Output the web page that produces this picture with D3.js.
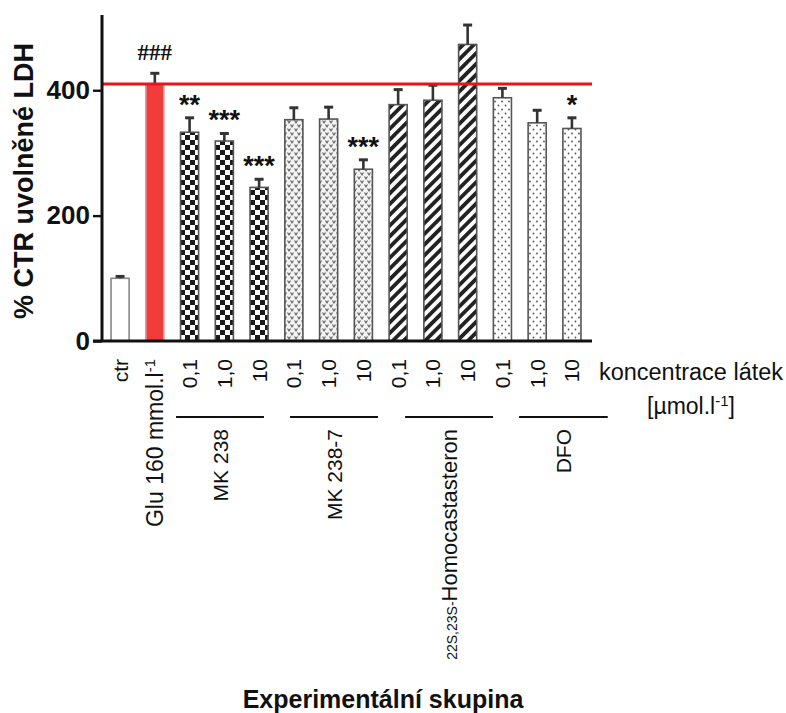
<!DOCTYPE html>
<html>
<head>
<meta charset="utf-8">
<script src="https://cdn.jsdelivr.net/npm/d3@7"></script>
<style>
  body { margin: 0; background: #fff; }
  svg text { font-family: "Liberation Sans", Arial, sans-serif; fill: #111; }
</style>
</head>
<body>
<svg id="chart" width="786" height="713"></svg>
<script>
// ---- data ----
var barIds    = ["ctr", "glu", "mk1", "mk2", "mk3", "mk7a", "mk7b", "mk7c", "hc1", "hc2", "hc3", "dfo1", "dfo2", "dfo3"];
var barLabels = ["ctr", "Glu 160 mmol.l", "0,1", "1,0", "10", "0,1", "1,0", "10", "0,1", "1,0", "10", "0,1", "1,0", "10"];
var values    = [100, 410, 333, 319, 245, 353, 354, 274, 377, 384, 473, 388, 348, 339];
var errors    = [3, 17, 23, 12, 13, 19, 19, 15, 24, 24, 31, 15, 20, 17];
var fillKinds = ["plain", "red", "check", "check", "check", "vee", "vee", "vee", "stripe", "stripe", "stripe", "dots", "dots", "dots"];
var signif    = ["", "###", "**", "***", "***", "", "", "***", "", "", "", "", "", "*"];
var yTicks    = [0, 200, 400];
// group underline spans, in bar-index units
var groupNames = ["MK 238", "MK 238-7", "22S,23S-Homocastasteron", "DFO"];
var groupFrom  = [1.61, 4.89, 8.20, 11.48];
var groupTo    = [4.14, 7.42, 10.73, 14.03];
var refValue   = values[1];

var svg = d3.select("#chart");
var defs = svg.append("defs");

// patterns
var p = defs.append("pattern").attr("id", "check").attr("patternUnits", "userSpaceOnUse")
    .attr("width", 10).attr("height", 10);
p.append("rect").attr("width", 10).attr("height", 10).attr("fill", "#fff");
p.append("rect").attr("width", 5).attr("height", 5).attr("fill", "#1a1a1a");
p.append("rect").attr("x", 5).attr("y", 5).attr("width", 5).attr("height", 5).attr("fill", "#1a1a1a");

p = defs.append("pattern").attr("id", "vee").attr("patternUnits", "userSpaceOnUse")
    .attr("width", 7).attr("height", 8);
p.append("rect").attr("width", 7).attr("height", 8).attr("fill", "#f2f2f2");
p.append("path").attr("d", "M0.5,0.5 L2,2.8 L3.5,0.5 M3.5,4.5 L5,6.8 L6.5,4.5")
    .attr("stroke", "#666").attr("stroke-width", 1.2).attr("fill", "none");

p = defs.append("pattern").attr("id", "stripe").attr("patternUnits", "userSpaceOnUse")
    .attr("width", 7.6).attr("height", 10).attr("patternTransform", "rotate(45)");
p.append("rect").attr("width", 7.6).attr("height", 10).attr("fill", "#fff");
p.append("rect").attr("width", 3.8).attr("height", 10).attr("fill", "#222");

p = defs.append("pattern").attr("id", "dots").attr("patternUnits", "userSpaceOnUse")
    .attr("width", 7).attr("height", 8);
p.append("rect").attr("width", 7).attr("height", 8).attr("fill", "#fff");
p.append("circle").attr("cx", 1.5).attr("cy", 1.5).attr("r", 0.9).attr("fill", "#555");
p.append("circle").attr("cx", 5).attr("cy", 5.5).attr("r", 0.9).attr("fill", "#555");

var fillFor = function (k) {
    if (k == "plain") return "#fff";
    if (k == "red") return "#f23c3c";
    return "url(#" + k + ")";
};

// scales
var x = d3.scaleBand().domain(barIds).range([102, 590]).paddingInner(0.48).paddingOuter(0.26);
var y = d3.scaleLinear().domain([0, 520]).range([341, 15]);
var bw = x.bandwidth();
var xIdx = d3.scaleLinear().domain([0, barIds.length - 1])
    .range([x(barIds[0]) + bw / 2, x(barIds[barIds.length - 1]) + bw / 2]);

var rows = barIds.map(function (id, i) {
    return { id: id, label: barLabels[i], v: values[i], e: errors[i], kind: fillKinds[i], sig: signif[i] };
});

// bars
svg.append("g").selectAll("rect").data(rows).enter().append("rect")
    .attr("x", function (d) { return x(d.id); })
    .attr("y", function (d) { return y(d.v); })
    .attr("width", bw)
    .attr("height", function (d) { return y(0) - y(d.v); })
    .attr("fill", function (d) { return fillFor(d.kind); })
    .attr("stroke", function (d) { return d.kind == "red" ? "#d9a0a0" : (d.kind == "plain" ? "#888" : "#555"); })
    .attr("stroke-width", 1.6);

// error bars
var eb = svg.append("g").attr("stroke", "#333");
eb.selectAll("line.v").data(rows).enter().append("line")
    .attr("x1", function (d) { return x(d.id) + bw / 2; })
    .attr("x2", function (d) { return x(d.id) + bw / 2; })
    .attr("y1", function (d) { return y(d.v); })
    .attr("y2", function (d) { return y(d.v + d.e); })
    .attr("stroke-width", 2.6);
eb.selectAll("line.c").data(rows).enter().append("line")
    .attr("x1", function (d) { return x(d.id) + bw / 2 - 4.5; })
    .attr("x2", function (d) { return x(d.id) + bw / 2 + 4.5; })
    .attr("y1", function (d) { return y(d.v + d.e); })
    .attr("y2", function (d) { return y(d.v + d.e); })
    .attr("stroke-width", 3);

// reference line (Glu level)
svg.append("line")
    .attr("x1", 102).attr("x2", 592)
    .attr("y1", y(refValue)).attr("y2", y(refValue))
    .attr("stroke", "#e8141a").attr("stroke-width", 3);

// significance marks
svg.append("g").selectAll("text").data(rows.filter(function (d) { return d.sig != ""; })).enter().append("text")
    .attr("x", function (d) { return x(d.id) + bw / 2; })
    .attr("y", function (d) { return y(d.v + d.e) - (d.sig.charAt(0) == "#" ? 13 : 4); })
    .attr("text-anchor", "middle")
    .style("font-weight", "bold")
    .style("font-family", function (d) { return d.sig.charAt(0) == "#" ? "'Liberation Serif', serif" : null; })
    .style("font-size", function (d) { return d.sig.charAt(0) == "#" ? "23px" : "27px"; })
    .text(function (d) { return d.sig; });

// y axis
var yAxis = svg.append("g").attr("transform", "translate(102,0)")
    .call(d3.axisLeft(y).tickValues(yTicks).tickSize(9).tickPadding(3).tickFormat(d3.format("d")));
yAxis.select(".domain").attr("d", "M0," + y(520) + "V" + y(0)).attr("stroke", "#111").attr("stroke-width", 3);
yAxis.selectAll(".tick line").attr("stroke", "#111").attr("stroke-width", 2.4);
yAxis.selectAll(".tick text").style("font-size", "26px").style("font-weight", "bold")
    .style("font-family", "'Liberation Sans', Arial, sans-serif").attr("fill", "#111");

// x axis line
svg.append("line").attr("x1", 93).attr("x2", 592).attr("y1", y(0)).attr("y2", y(0))
    .attr("stroke", "#111").attr("stroke-width", 3);

// x tick labels (rotated)
var xl = svg.append("g").selectAll("text").data(rows).enter().append("text")
    .attr("transform", function (d) { return "translate(" + (x(d.id) + bw / 2) + ",359) rotate(-90)"; })
    .attr("text-anchor", "end")
    .attr("dy", "0.36em")
    .style("font-size", function (d) { return d.id == "glu" ? "23px" : "21px"; })
    .text(function (d) { return d.label; });
xl.filter(function (d) { return d.id == "glu"; }).append("tspan")
    .attr("baseline-shift", "super").style("font-size", "15px").text("-1");

// group underlines and names
var groups = groupNames.map(function (n, i) { return { name: n, a: groupFrom[i], b: groupTo[i] }; });
var gg = svg.append("g");
gg.selectAll("line").data(groups).enter().append("line")
    .attr("x1", function (d) { return xIdx(d.a); })
    .attr("x2", function (d) { return xIdx(d.b); })
    .attr("y1", 417).attr("y2", 417)
    .attr("stroke", "#111").attr("stroke-width", 2.2);
var gt = gg.selectAll("text").data(groups).enter().append("text")
    .attr("transform", function (d) { return "translate(" + xIdx((d.a + d.b) / 2) + ",429) rotate(-90)"; })
    .attr("text-anchor", "end")
    .attr("dy", "0.36em")
    .style("font-size", "21px");
gt.each(function (d) {
    var t = d3.select(this);
    if (d.name.indexOf("22S,23S-") == 0) {
        t.append("tspan").style("font-size", "14px").text("22S,23S-");
        t.append("tspan").style("font-size", "22px").text(d.name.slice(8));
    } else {
        t.text(d.name);
    }
});

// concentration legend text
svg.append("text").attr("x", 691).attr("y", 380).attr("text-anchor", "middle")
    .style("font-size", "23.5px").text("koncentrace látek");
var u = svg.append("text").attr("x", 691).attr("y", 414).attr("text-anchor", "middle")
    .style("font-size", "23px");
u.append("tspan").text("[µmol.l");
u.append("tspan").attr("baseline-shift", "super").style("font-size", "15px").text("-1");
u.append("tspan").text("]");

// axis titles
svg.append("text").attr("x", 383).attr("y", 708).attr("text-anchor", "middle")
    .style("font-size", "25px").style("font-weight", "bold").text("Experimentální skupina");
svg.append("text").attr("transform", "translate(33,181) rotate(-90)").attr("text-anchor", "middle")
    .style("font-size", "27px").style("font-weight", "bold").text("% CTR uvolněné LDH");
</script>
</body>
</html>
